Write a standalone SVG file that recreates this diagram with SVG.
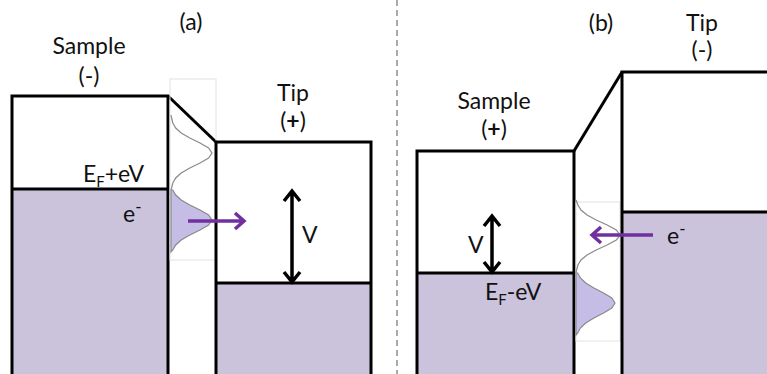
<svg xmlns="http://www.w3.org/2000/svg" width="767" height="374" viewBox="0 0 767 374">
<style>
.band{fill:#cbc3db;stroke:none}
.edge{fill:none;stroke:#000;stroke-width:3;stroke-linejoin:miter}
.frame{fill:none;stroke:#e2e2e2;stroke-width:1}
.gauss{fill:none;stroke:#8a8a8a;stroke-width:1.2}
.gfill{fill:#c5bde6;stroke:#8a8a8a;stroke-width:1.2}
.varr{fill:none;stroke:#000;stroke-width:3.5}
.parr{fill:none;stroke:#7030a0;stroke-width:3.5}
text{font-family:Lato,"Open Sans","Liberation Sans",sans-serif;font-size:23px;fill:#111}
.mid{text-anchor:middle}
.sub{font-size:15px}
.sup{font-size:17px}
</style>
<g id="divider"><line x1="397" y1="0" x2="397" y2="374" stroke="#555" stroke-width="1" stroke-dasharray="6,4"/></g>

<g id="panel-a">
  <text class="mid" x="191" y="30">(a)</text>
  <g id="sample-a">
    <rect class="band" x="12" y="189" width="156" height="186"/>
    <path class="edge" d="M12,375 V96 H168 V375"/>
    <line class="edge" x1="12" y1="189" x2="168" y2="189"/>
    <text class="mid" x="89" y="54">Sample</text>
    <text class="mid" x="89" y="84">(-)</text>
    <text x="83" y="182">E<tspan class="sub" dy="5">F</tspan><tspan dy="-5">+eV</tspan></text>
    <text x="123" y="222">e<tspan class="sup" dy="-9">-</tspan></text>
  </g>
  <g id="barrier-a">
    <line class="edge" x1="168" y1="96" x2="216" y2="142"/>
    <rect class="frame" x="170" y="79" width="46" height="181"/>
    <path class="gauss" d="M171,115 L171.6,118 L172.8,123 L175.7,128 L181.2,133 L189.8,138 L200,143 L208.6,148 L212,153 L208.6,158 L200,163 L189.8,168 L181.2,173 L175.7,178 L172.8,183 L171.6,188 L171,190"/>
    <path class="gfill" d="M171,190 L172.8,190 L175.7,195 L181.2,200 L189.8,205 L200,210 L208.6,215 L212,220 L208.6,225 L200,230 L189.8,235 L181.2,240 L175.7,245 L172.8,250 L171,252 Z"/>
  </g>
  <g id="tip-a">
    <rect class="band" x="216" y="283" width="155" height="92"/>
    <path class="edge" d="M216,375 V142 H371 V375"/>
    <line class="edge" x1="216" y1="283" x2="371" y2="283"/>
    <text class="mid" x="293" y="101">Tip</text>
    <text class="mid" x="293" y="129">(<tspan font-weight="bold">+</tspan>)</text>
    <text x="302" y="243">V</text>
  </g>
  <g id="connectors-a">
    <path class="varr" d="M292,192 V281 M284,201 L292,191 L300,201 M284,272 L292,282 L300,272"/>
    <path class="parr" d="M188,221 H243 M235,213 L244,221 L235,229"/>
  </g>
</g>

<g id="panel-b">
  <text class="mid" x="601" y="31">(b)</text>
  <g id="sample-b">
    <rect class="band" x="417" y="273" width="157" height="102"/>
    <path class="edge" d="M417,375 V151 H574 V375"/>
    <line class="edge" x1="417" y1="273" x2="574" y2="273"/>
    <text class="mid" x="494" y="109">Sample</text>
    <text class="mid" x="494" y="137">(<tspan font-weight="bold">+</tspan>)</text>
    <text x="468" y="253">V</text>
    <text x="485" y="300">E<tspan class="sub" dy="5">F</tspan><tspan dy="-5">-eV</tspan></text>
  </g>
  <g id="barrier-b">
    <line class="edge" x1="574" y1="151" x2="622" y2="72"/>
    <rect class="frame" x="576" y="202" width="44" height="139"/>
    <path class="gauss" d="M576,200 L577.9,205 L581,210 L587,215 L596.2,220 L607.1,225 L616.3,230 L620,235 L616.3,240 L607.1,245 L596.2,250 L587,255 L581,260 L577.9,265 L576.6,270 L576,273"/>
    <path class="gfill" d="M576,273 L577.7,273 L580.4,278 L585.7,283 L593.9,288 L603.6,293 L611.8,298 L615,303 L611.8,308 L603.6,313 L593.9,318 L585.7,323 L580.4,328 L577.7,333 L576,335 Z"/>
  </g>
  <g id="tip-b">
    <rect class="band" x="622" y="212" width="146" height="163"/>
    <path class="edge" d="M622,375 V72 H770"/>
    <line class="edge" x1="622" y1="212" x2="770" y2="212"/>
    <text class="mid" x="702" y="31">Tip</text>
    <text class="mid" x="702" y="58">(-)</text>
    <text x="667" y="244">e<tspan class="sup" dy="-9">-</tspan></text>
  </g>
  <g id="connectors-b">
    <path class="varr" d="M492,217 V271 M484,226 L492,216 L500,226 M484,262 L492,272 L500,262"/>
    <path class="parr" d="M653,235 H593 M601,227 L592,235 L601,243"/>
  </g>
</g>
</svg>
